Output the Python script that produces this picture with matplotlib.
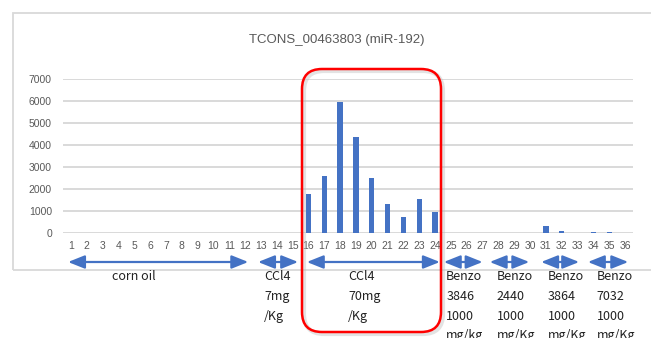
import matplotlib
matplotlib.use('Agg')
import matplotlib.pyplot as plt
import matplotlib.transforms as mtransforms
from matplotlib.patches import FancyArrowPatch, FancyBboxPatch, Rectangle

# sample numbers on x axis and expression values
samples = list(range(1, 37))
values = [10, 10, 10, 10, 10, 10, 15, 10, 10, 15, 15, 10, 10, 10, 10,
          1780, 2600, 5950, 4350, 2500, 1300, 750, 1550, 950,
          20, 20, 15, 15, 20, 10, 300, 110, 20, 60, 60, 20]
yticks = [0, 1000, 2000, 3000, 4000, 5000, 6000, 7000]
title = 'TCONS_00463803 (miR-192)'

# treatment groups: label, arrow start/end (in sample units), text x (in sample units)
group_labels = ['corn oil', 'CCl4\n7mg\n/Kg', 'CCl4\n70mg\n/Kg',
                'Benzo\n3846\n1000\nmg/kg', 'Benzo\n2440\n1000\nmg/Kg',
                'Benzo\n3864\n1000\nmg/Kg', 'Benzo\n7032\n1000\nmg/Kg']
arrow_from = [0.82, 12.82, 15.9, 24.55, 27.45, 30.7, 33.65]
arrow_to = [12.2, 15.35, 24.3, 27.0, 29.95, 33.1, 36.2]
text_x = [5.0, 13.2, 18.5, 24.7, 27.9, 31.1, 34.2]
text_ha = ['center', 'left', 'left', 'left', 'left', 'left', 'left']

W, H = 651, 338
fig = plt.figure(figsize=(W / 100, H / 100), dpi=100)
ax = fig.add_axes([63 / W, 1 - 233 / H, 570 / W, 154 / H])

ax.bar(samples, values, width=0.33, color='#4472C4', zorder=3)
ax.set_xlim(0.5, 36.5)
ax.set_ylim(0, 7000)
ax.set_yticks(yticks)
ax.set_xticks(samples)
ax.grid(axis='y', color='#D9D9D9', linewidth=1.4, zorder=0)
for s in ax.spines.values():
    s.set_visible(False)
ax.tick_params(length=0, labelsize=7.5, labelcolor='#595959')
ax.tick_params(axis='x', pad=6)
ax.tick_params(axis='y', pad=8)
for lab in ax.get_xticklabels() + ax.get_yticklabels():
    lab.set_fontfamily('Liberation Sans')

fig.text(337 / W, 1 - 40 / H, title, ha='center', va='center',
         fontsize=9.5, color='#595959', family='Liberation Sans')

# outer chart frame (pixel coords)
pix = mtransforms.IdentityTransform()
fig.add_artist(Rectangle((12.5, H - 270), 660, 257, transform=pix, fill=False,
                         edgecolor='#D9D9D9', linewidth=1.3))

# group arrows and labels under the axis
blend = mtransforms.blended_transform_factory(ax.transData, fig.transFigure)
for i, lab in enumerate(group_labels):
    arr = FancyArrowPatch((arrow_from[i], 1 - 262 / H), (arrow_to[i], 1 - 262 / H),
                          transform=blend, arrowstyle='<|-|>,head_length=10,head_width=4',
                          mutation_scale=1, color='#4472C4', linewidth=1.6,
                          shrinkA=0, shrinkB=0, clip_on=False)
    fig.add_artist(arr)
    fig.text(text_x[i], 1 - 270 / H, lab, transform=blend, ha=text_ha[i], va='top',
             fontsize=9, color='#222222', family='Noto Sans CJK JP', linespacing=1.68)

# red rounded highlight box with a soft shadow
fig.add_artist(FancyBboxPatch((304, H - 334), 139, 263, transform=pix,
                              boxstyle='round,pad=0,rounding_size=20',
                              fill=False, edgecolor='#BBBBBB', linewidth=3, alpha=0.4))
fig.add_artist(FancyBboxPatch((302, H - 332), 139, 263, transform=pix,
                              boxstyle='round,pad=0,rounding_size=20',
                              fill=False, edgecolor='#FF0000', linewidth=1.8))

fig.savefig('out.png', dpi=100)
